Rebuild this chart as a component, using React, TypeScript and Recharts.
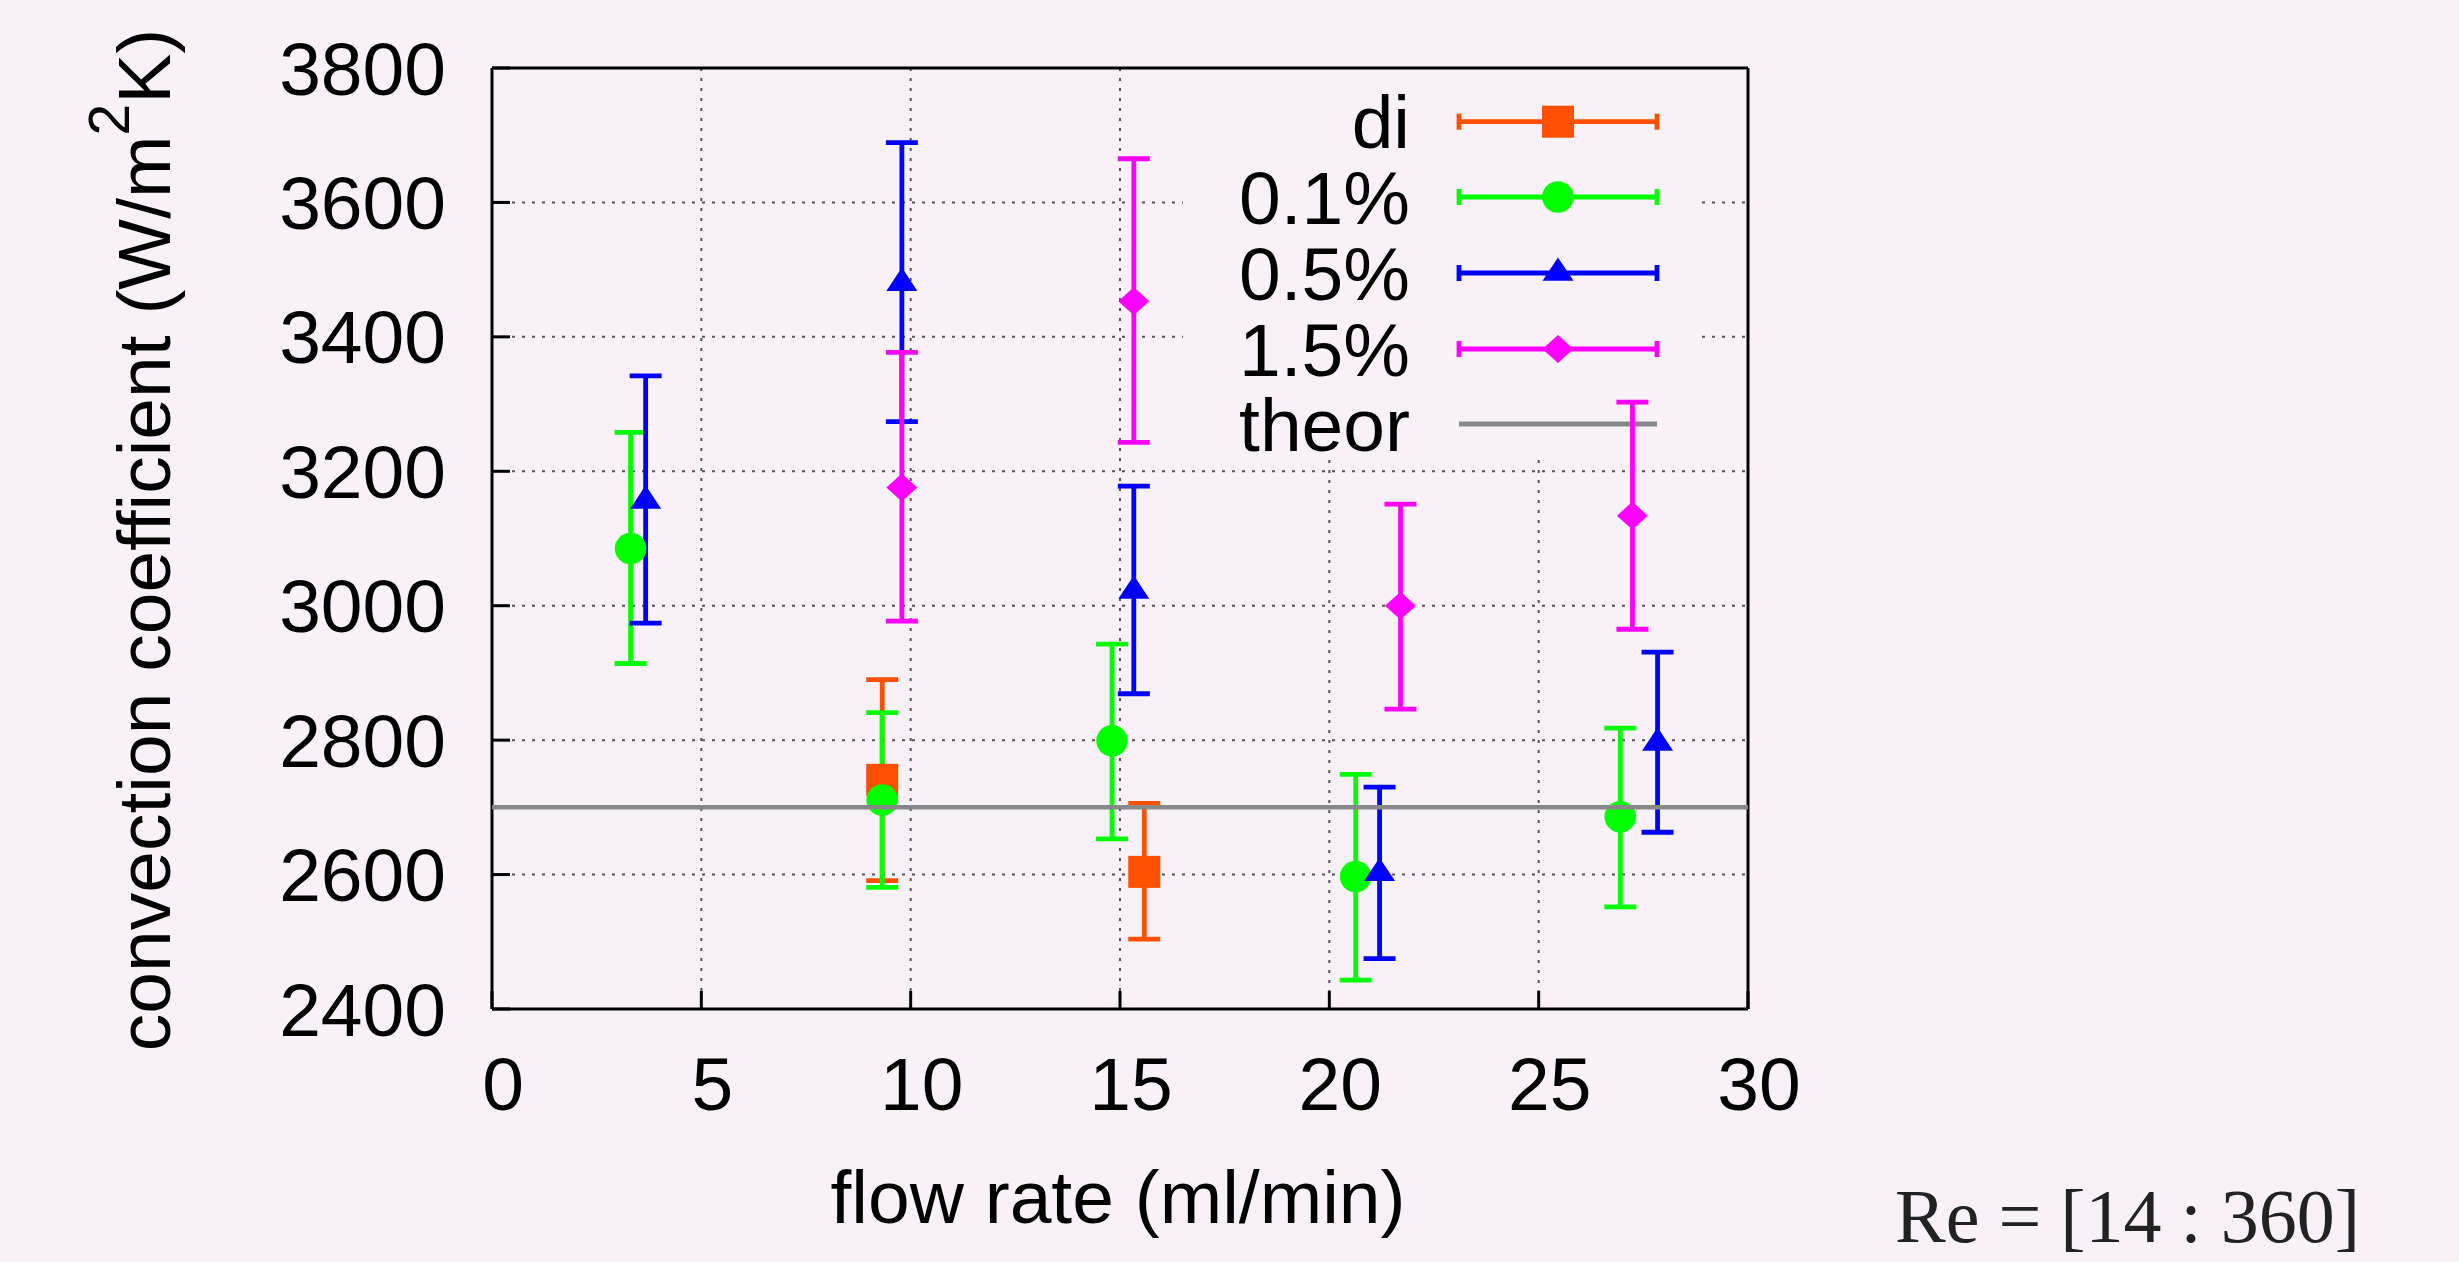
import React from 'react';
import {
  ScatterChart,
  Scatter,
  XAxis,
  YAxis,
  CartesianGrid,
  ErrorBar,
  ReferenceLine,
  Legend,
} from 'recharts';

// ---------------- data ----------------
const xTicks = [0, 5, 10, 15, 20, 25, 30];
const yTicks = [2400, 2600, 2800, 3000, 3200, 3400, 3600, 3800];

const diX = [9.32, 15.58];
const diY = [2741, 2604];
const diLow = [2591, 2504];
const diHigh = [2890, 2706];

const p01X = [3.31, 9.32, 14.81, 20.63, 26.95];
const p01Y = [3085, 2711, 2799, 2597, 2686];
const p01Low = [2914, 2581, 2653, 2443, 2552];
const p01High = [3258, 2841, 2943, 2749, 2818];

const p05X = [3.67, 9.79, 15.33, 21.2, 27.84];
const p05Y = [3156, 3480, 3022, 2602, 2796];
const p05Low = [2974, 3274, 2869, 2475, 2663];
const p05High = [3342, 3689, 3178, 2730, 2931];

const p15X = [9.79, 15.33, 21.7, 27.24];
const p15Y = [3176, 3453, 3000, 3134];
const p15Low = [2977, 3243, 2846, 2965];
const p15High = [3377, 3665, 3151, 3303];

const theorY = 2700;

const seriesNames = ['di', '0.1%', '0.5%', '1.5%', 'theor'];

// ---------------- styling ----------------
const W = 2459;
const H = 1262;
const BG = '#F8F2F8';
const FONT = '"Liberation Sans", Arial, Helvetica, sans-serif';
const FS = 75;
const COLORS = ['#FF4F00', '#00FF00', '#0000FF', '#FF00FF', '#888888'];
const MARKERS = ['square', 'circle', 'triangle', 'diamond'];
const BAR_W = 4.8;
const GRID_STROKE = '#555';

const build = (xs: number[], ys: number[], lo: number[], hi: number[]) =>
  xs.map((x, i) => ({ x, y: ys[i], err: [ys[i] - lo[i], hi[i] - ys[i]] }));

const seriesData = [
  build(diX, diY, diLow, diHigh),
  build(p01X, p01Y, p01Low, p01High),
  build(p05X, p05Y, p05Low, p05High),
  build(p15X, p15Y, p15Low, p15High),
];

function Marker({ kind, cx, cy, color }: { kind: string; cx: number; cy: number; color: string }) {
  if (cx == null || cy == null || isNaN(cx) || isNaN(cy)) return null;
  switch (kind) {
    case 'square':
      return <rect x={cx - 16} y={cy - 16} width={32} height={32} fill={color} />;
    case 'circle':
      return <circle cx={cx} cy={cy} r={15.8} fill={color} />;
    case 'triangle':
      return (
        <polygon
          points={`${cx},${cy - 15.5} ${cx - 15.5},${cy + 7.8} ${cx + 15.5},${cy + 7.8}`}
          fill={color}
        />
      );
    case 'diamond':
    default:
      return (
        <polygon
          points={`${cx},${cy - 14} ${cx + 15.5},${cy} ${cx},${cy + 14} ${cx - 15.5},${cy}`}
          fill={color}
        />
      );
  }
}

// legend box (opaque key area) in page coordinates
const LEG_LEFT = 1183;
const LEG_TOP = 86;
const LEG_W = 519;
const LEG_H = 374;
const LEG_RIGHT = LEG_LEFT + LEG_W;
const LEG_BOTTOM = LEG_TOP + LEG_H;

const gridStyle = {
  stroke: GRID_STROKE,
  strokeWidth: 2,
  strokeDasharray: '3 7',
  fill: 'none',
};

// grid lines are left out where the opaque key sits
const HLine = (p: any) => {
  const { x1, x2, y1 } = p;
  if (y1 > LEG_TOP && y1 < LEG_BOTTOM) {
    return (
      <g key={p.key ?? `h-${y1}`}>
        <line x1={x1} y1={y1} x2={Math.min(LEG_LEFT, x2)} y2={y1} {...gridStyle} />
        <line x1={Math.max(LEG_RIGHT, x1)} y1={y1} x2={x2} y2={y1} {...gridStyle} />
      </g>
    );
  }
  return <line key={p.key ?? `h-${y1}`} x1={x1} y1={y1} x2={x2} y2={y1} {...gridStyle} />;
};

const VLine = (p: any) => {
  const { x1, y1, y2 } = p;
  const top = x1 > LEG_LEFT && x1 < LEG_RIGHT ? Math.max(y1, LEG_BOTTOM) : y1;
  return <line key={p.key ?? `v-${x1}`} x1={x1} y1={top} x2={x1} y2={y2} {...gridStyle} />;
};

function LegendBox() {
  const rowY = [35.7, 111, 187, 263, 338];
  const textX = 227;
  const x0 = 276;
  const x1 = 474;
  const xm = 375;
  return (
    <svg width={LEG_W} height={LEG_H} style={{ display: 'block' }}>
      {seriesNames.map((name, i) => {
        const y = rowY[i];
        const c = COLORS[i];
        return (
          <g key={name}>
            <text
              x={textX}
              y={y + 26.5}
              textAnchor="end"
              fontFamily={FONT}
              fontSize={FS}
              fill="#000"
            >
              {name}
            </text>
            <line x1={x0} y1={y} x2={x1} y2={y} stroke={c} strokeWidth={BAR_W} />
            {i < 4 && (
              <>
                <line x1={x0} y1={y - 8} x2={x0} y2={y + 8} stroke={c} strokeWidth={BAR_W} />
                <line x1={x1} y1={y - 8} x2={x1} y2={y + 8} stroke={c} strokeWidth={BAR_W} />
                <Marker kind={MARKERS[i]} cx={xm} cy={y} color={c} />
              </>
            )}
          </g>
        );
      })}
    </svg>
  );
}

const BottomTick = (p: any) => (
  <text
    x={p.x + 11}
    y={p.y + 53}
    textAnchor="middle"
    fontFamily={FONT}
    fontSize={FS}
    fill="#000"
  >
    {p.payload.value}
  </text>
);

const LeftTick = (p: any) => (
  <text
    x={p.x}
    y={p.y + 26.5}
    textAnchor="end"
    fontFamily={FONT}
    fontSize={FS}
    fill="#000"
  >
    {p.payload.value}
  </text>
);

export default function App() {
  return (
    <div
      style={{
        position: 'fixed',
        left: 0,
        top: 0,
        width: W,
        height: H,
        background: BG,
        overflow: 'hidden',
      }}
    >
      <ScatterChart
        width={W}
        height={H}
        margin={{ top: 67, right: 710, bottom: 252, left: 491 }}
      >
        <CartesianGrid
          xAxisId="b"
          yAxisId="l"
          stroke={GRID_STROKE}
          strokeWidth={2}
          strokeDasharray="3 7"
          horizontal={HLine}
          vertical={VLine}
        />
        <XAxis
          xAxisId="b"
          orientation="bottom"
          type="number"
          dataKey="x"
          domain={[0, 30]}
          ticks={xTicks}
          interval={0}
          height={1}
          tickSize={-18}
          tickMargin={66}
          stroke="#000"
          axisLine={{ stroke: '#000', strokeWidth: 3 }}
          tickLine={{ stroke: '#000', strokeWidth: 3 }}
          tick={BottomTick}
          allowDataOverflow
        />
        <XAxis
          xAxisId="t"
          orientation="top"
          type="number"
          dataKey="x"
          domain={[0, 30]}
          ticks={xTicks}
          interval={0}
          height={1}
          tickSize={-18}
          stroke="#000"
          axisLine={{ stroke: '#000', strokeWidth: 3 }}
          tickLine={{ stroke: '#000', strokeWidth: 3 }}
          tick={false}
          allowDataOverflow
        />
        <YAxis
          yAxisId="l"
          orientation="left"
          type="number"
          dataKey="y"
          domain={[2400, 3800]}
          ticks={yTicks}
          interval={0}
          width={1}
          tickSize={-18}
          tickMargin={64}
          stroke="#000"
          axisLine={{ stroke: '#000', strokeWidth: 3 }}
          tickLine={{ stroke: '#000', strokeWidth: 3 }}
          tick={LeftTick}
          allowDataOverflow
        />
        <YAxis
          yAxisId="r"
          orientation="right"
          type="number"
          dataKey="y"
          domain={[2400, 3800]}
          ticks={yTicks}
          interval={0}
          width={1}
          tickSize={-18}
          stroke="#000"
          axisLine={{ stroke: '#000', strokeWidth: 3 }}
          tickLine={{ stroke: '#000', strokeWidth: 3 }}
          tick={false}
          allowDataOverflow
        />
        {seriesData.map((d, i) => (
          <Scatter
            key={seriesNames[i]}
            name={seriesNames[i]}
            data={d}
            xAxisId="b"
            yAxisId="l"
            fill={COLORS[i]}
            isAnimationActive={false}
            shape={(p: any) => <Marker kind={MARKERS[i]} cx={p.cx} cy={p.cy} color={COLORS[i]} />}
          >
            <ErrorBar
              dataKey="err"
              direction="y"
              width={16}
              strokeWidth={BAR_W}
              stroke={COLORS[i]}
              isAnimationActive={false}
            />
          </Scatter>
        ))}
        <ReferenceLine
          xAxisId="b"
          yAxisId="l"
          y={theorY}
          stroke={COLORS[4]}
          strokeWidth={4.5}
          zIndex={700}
        />
        <Legend
          layout="vertical"
          align="center"
          verticalAlign="middle"
          wrapperStyle={{
            left: LEG_LEFT,
            top: LEG_TOP,
            width: LEG_W,
            height: LEG_H,
            zIndex: -1,
          }}
          content={() => <LegendBox />}
        />
      </ScatterChart>
      <svg
        width={W}
        height={H}
        style={{ position: 'absolute', left: 0, top: 0, pointerEvents: 'none' }}
      >
        <text
          transform="rotate(-90)"
          x={-540}
          y={170}
          textAnchor="middle"
          fontFamily={FONT}
          fontSize={FS}
          fill="#000"
        >
          convection coefficient (W/m
          <tspan dy={-41} fontSize={57}>
            2
          </tspan>
          <tspan dy={41}>K)</tspan>
        </text>
        <text
          x={1118}
          y={1223}
          textAnchor="middle"
          fontFamily={FONT}
          fontSize={FS}
          fill="#000"
        >
          flow rate (ml/min)
        </text>
        <text
          x={2360}
          y={1242}
          textAnchor="end"
          fontFamily='"Liberation Serif", "DejaVu Serif", serif'
          fontSize={76}
          fill="#222"
        >
          Re = [14 : 360]
        </text>
      </svg>
    </div>
  );
}
